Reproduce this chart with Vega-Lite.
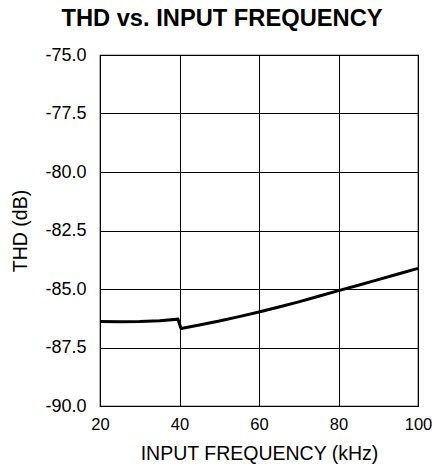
{
  "$schema": "https://vega.github.io/schema/vega-lite/v6.json",
  "autosize": "none",
  "width": 318,
  "height": 351,
  "padding": {"left": 100, "top": 55, "right": 18, "bottom": 64},
  "background": "white",
  "title": {
    "text": "THD vs. INPUT FREQUENCY",
    "font": "Liberation Sans",
    "fontSize": 23.7,
    "fontWeight": "bold",
    "color": "black",
    "anchor": "middle",
    "dx": -37,
    "offset": 15
  },
  "config": {
    "view": {"stroke": "black", "strokeWidth": 1.2},
    "axis": {
      "labelFont": "Liberation Sans",
      "titleFont": "Liberation Sans",
      "titleFontSize": 19.5,
      "titleFontWeight": "normal",
      "labelColor": "black",
      "titleColor": "black",
      "gridColor": "black",
      "gridOpacity": 1,
      "gridWidth": 1,
      "domain": false,
      "ticks": false
    },
    "axisX": {"labelFontSize": 16.5, "labelFlush": false},
    "axisY": {"labelFontSize": 18}
  },
  "data": {
    "values": [
      {"f": 20, "thd": -86.39},
      {"f": 25, "thd": -86.4},
      {"f": 30, "thd": -86.39},
      {"f": 35, "thd": -86.36},
      {"f": 39.6, "thd": -86.29},
      {"f": 40.4, "thd": -86.69},
      {"f": 45, "thd": -86.54},
      {"f": 50, "thd": -86.37},
      {"f": 55, "thd": -86.18},
      {"f": 60, "thd": -85.98},
      {"f": 65, "thd": -85.77},
      {"f": 70, "thd": -85.55},
      {"f": 75, "thd": -85.31},
      {"f": 80, "thd": -85.07},
      {"f": 85, "thd": -84.84},
      {"f": 90, "thd": -84.6},
      {"f": 95, "thd": -84.36},
      {"f": 100, "thd": -84.12}
    ]
  },
  "mark": {"type": "line", "color": "black", "strokeWidth": 3},
  "encoding": {
    "x": {
      "field": "f",
      "type": "quantitative",
      "scale": {"domain": [20, 100], "nice": false, "zero": false},
      "axis": {"values": [20, 40, 60, 80, 100], "title": "INPUT FREQUENCY (kHz)", "labelPadding": 10, "titlePadding": 12}
    },
    "y": {
      "field": "thd",
      "type": "quantitative",
      "scale": {"domain": [-90, -75], "nice": false, "zero": false},
      "axis": {"values": [-90, -87.5, -85, -82.5, -80, -77.5, -75], "labelExpr": "replace(format(datum.value, '.1f'), '\u2212', '-')", "title": "THD (dB)", "labelPadding": 14, "titlePadding": 14}
    }
  }
}
